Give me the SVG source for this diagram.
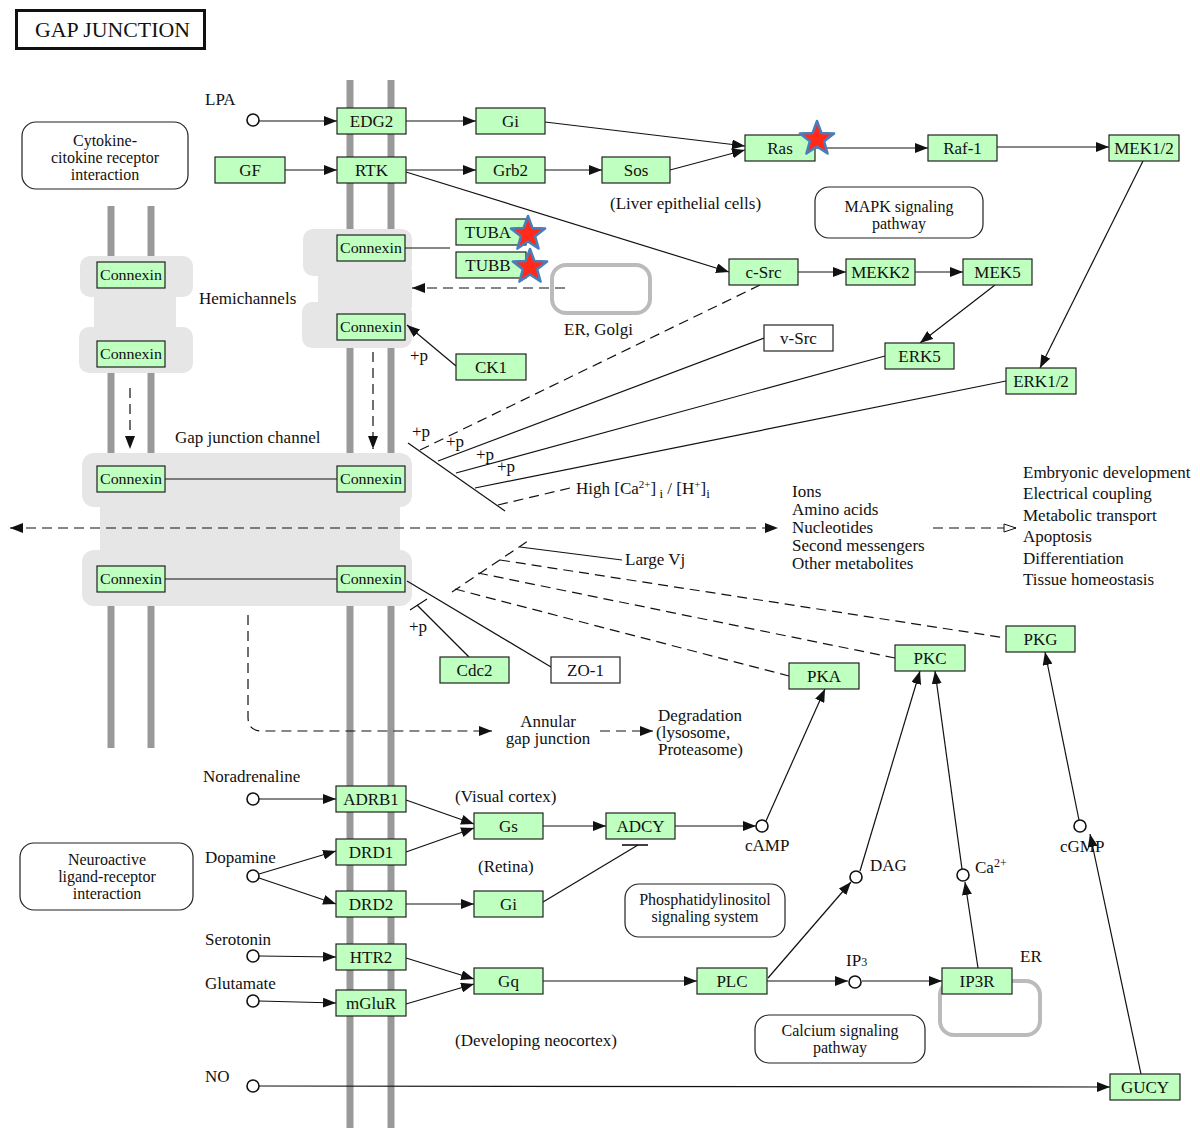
<svg xmlns="http://www.w3.org/2000/svg" width="1200" height="1133" viewBox="0 0 1200 1133">
<style>
text{font-family:"Liberation Serif","Times New Roman",serif;font-size:17px;fill:#111}
.n rect{fill:#bfffbf;stroke:#222;stroke-width:1.2}
.w rect{fill:#fff;stroke:#222;stroke-width:1.2}
.n text,.w text{text-anchor:middle}
.cx text{font-size:15.5px}
.mem{fill:#999}
.bg{fill:#e6e6e6}
.box{fill:#fff;stroke:#222;stroke-width:1.2}
.pw text{font-size:16px}
.er{fill:none;stroke:#bbb;stroke-width:4}
.c line,.c path,.c polyline{stroke:#111;stroke-width:1.2;fill:none}
.d{stroke-dasharray:10,6}
.a{marker-end:url(#ah)}
.star{fill:#ff2a1a;stroke:#4a7ebb;stroke-width:2.5;stroke-linejoin:round}
.cir{fill:#fff;stroke:#111;stroke-width:1.6}
.mid{text-anchor:middle}
</style>
<defs>
<marker id="ah" markerWidth="13" markerHeight="10" refX="13" refY="5" orient="auto" markerUnits="userSpaceOnUse"><path d="M0,0 L13,5 L0,10 z" fill="#111"/></marker>
<marker id="ahs" markerWidth="13" markerHeight="10" refX="13" refY="5" orient="auto-start-reverse" markerUnits="userSpaceOnUse"><path d="M0,0 L13,5 L0,10 z" fill="#111"/></marker>
<marker id="ao" markerWidth="14" markerHeight="10" refX="13" refY="5" orient="auto" markerUnits="userSpaceOnUse"><path d="M1,1 L13,5 L1,9 z" fill="#fff" stroke="#111" stroke-width="1"/></marker>
<polygon id="star" points="0,-18 4.41,-6.07 17.12,-5.56 7.13,2.32 10.58,14.56 0,7.5 -10.58,14.56 -7.13,2.32 -17.12,-5.56 -4.41,-6.07"/>
</defs>
<rect width="1200" height="1133" fill="#fff"/>
<!-- title -->
<rect x="16.5" y="10.5" width="188" height="38" fill="#fff" stroke="#111" stroke-width="3"/>
<text x="35" y="37" style="font-size:20px" textLength="155" lengthAdjust="spacingAndGlyphs">GAP JUNCTION</text>
<!-- membranes -->
<g id="membranes">
<rect class="mem" x="346.5" y="80" width="7" height="1048"/>
<rect class="mem" x="387.5" y="80" width="7" height="1048"/>
<rect class="mem" x="107.5" y="206" width="7" height="542"/>
<rect class="mem" x="147.5" y="206" width="7" height="542"/>
</g>
<!-- grey backgrounds -->
<g id="backgrounds">
<rect class="bg" x="80" y="256" width="113" height="41" rx="10"/>
<rect class="bg" x="94" y="290" width="82" height="42"/>
<rect class="bg" x="79" y="327" width="114" height="46" rx="10"/>
<rect class="bg" x="303" y="229" width="109" height="47" rx="10"/>
<rect class="bg" x="318" y="270" width="94" height="38"/>
<rect class="bg" x="302" y="302" width="110" height="46" rx="10"/>
<rect class="bg" x="82" y="453" width="330" height="54" rx="12"/>
<rect class="bg" x="100" y="500" width="300" height="55"/>
<rect class="bg" x="82" y="550" width="330" height="56" rx="12"/>
<rect class="er" x="552" y="265" width="98" height="48" rx="14"/>
<rect class="er" x="940" y="981" width="100" height="54" rx="14"/>
</g>
<!-- pathway boxes -->
<g id="pathways" class="pw">
<g id="cytokine"><rect class="box" x="22" y="122" width="166" height="67" rx="14"/><text class="mid" x="105" y="146">Cytokine-</text><text class="mid" x="105" y="163">citokine receptor</text><text class="mid" x="105" y="180">interaction</text></g>
<g id="mapk"><rect class="box" x="815" y="187" width="168" height="51" rx="14"/><text class="mid" x="899" y="212">MAPK signaling</text><text class="mid" x="899" y="229">pathway</text></g>
<g id="neuroactive"><rect class="box" x="20" y="843" width="173" height="67" rx="14"/><text class="mid" x="107" y="865">Neuroactive</text><text class="mid" x="107" y="882">ligand-receptor</text><text class="mid" x="107" y="899">interaction</text></g>
<g id="phosphatidylinositol"><rect class="box" x="625" y="884" width="160" height="53" rx="14"/><text class="mid" x="705" y="905">Phosphatidylinositol</text><text class="mid" x="705" y="922">signaling system</text></g>
<g id="calcium"><rect class="box" x="755" y="1015" width="170" height="48" rx="14"/><text class="mid" x="840" y="1036">Calcium signaling</text><text class="mid" x="840" y="1053">pathway</text></g>
</g>
<!-- connectors -->
<g id="connectors" class="c">
<line x1="259" y1="121" x2="337" y2="121" class="a"/>
<line x1="285" y1="170" x2="337" y2="170" class="a"/>
<line x1="406" y1="121" x2="476" y2="121" class="a"/>
<line x1="406" y1="170" x2="476" y2="170" class="a"/>
<line x1="545" y1="170" x2="602" y2="170" class="a"/>
<line x1="545" y1="122" x2="745" y2="146" class="a"/>
<line x1="670" y1="170" x2="745" y2="150" class="a"/>
<line x1="815" y1="148" x2="928" y2="148" class="a"/>
<line x1="997" y1="147" x2="1109" y2="147" class="a"/>
<line x1="1143" y1="161" x2="1040" y2="368" class="a"/>
<line x1="406" y1="172" x2="729" y2="272" class="a"/>
<line x1="798" y1="272" x2="846" y2="272" class="a"/>
<line x1="915" y1="272" x2="963" y2="272" class="a"/>
<line x1="995" y1="285" x2="920" y2="343" class="a"/>
<line x1="456" y1="366" x2="407" y2="325" class="a"/>
<line x1="405" y1="248" x2="450" y2="248"/>
<line x1="565" y1="288" x2="412" y2="288" class="a d"/>
<line x1="130" y1="388" x2="130" y2="449" class="a d"/>
<line x1="373" y1="352" x2="373" y2="449" class="a d"/>
<line x1="165" y1="479" x2="337" y2="479"/>
<line x1="165" y1="579" x2="337" y2="579"/>
<line x1="10" y1="528" x2="778" y2="528" class="d" marker-start="url(#ahs)" marker-end="url(#ahs)"/>
<line x1="933" y1="528" x2="1016" y2="528" class="d" marker-end="url(#ao)"/>
<!-- upper fan -->
<line x1="408" y1="443" x2="505" y2="511"/>
<line x1="760" y1="285" x2="420" y2="450" class="d"/>
<line x1="764" y1="338" x2="438" y2="461"/>
<line x1="885" y1="356" x2="456" y2="473"/>
<line x1="1006" y1="381" x2="475" y2="488"/>
<line x1="570" y1="488" x2="498" y2="505" class="d"/>
<!-- lower fan -->
<line x1="452" y1="592" x2="528" y2="541" class="d"/>
<line x1="520" y1="547" x2="622" y2="560"/>
<line x1="500" y1="560" x2="1006" y2="638" class="d"/>
<line x1="478" y1="573" x2="895" y2="658" class="d"/>
<line x1="455" y1="589" x2="789" y2="676" class="d"/>
<line x1="407" y1="581" x2="551" y2="667"/>
<line x1="469" y1="657" x2="417" y2="605"/>
<line x1="410" y1="610" x2="427" y2="599"/>
<!-- annular -->
<path d="M248,615 V717 Q248,731 262,731 H492" class="a d"/>
<line x1="600" y1="731" x2="653" y2="731" class="a d"/>
<!-- lower signaling -->
<line x1="259" y1="799" x2="336" y2="799" class="a"/>
<line x1="259" y1="874" x2="336" y2="851" class="a"/>
<line x1="259" y1="878" x2="336" y2="904" class="a"/>
<line x1="406" y1="800" x2="474" y2="824" class="a"/>
<line x1="406" y1="852" x2="474" y2="828" class="a"/>
<line x1="406" y1="904" x2="474" y2="904" class="a"/>
<line x1="543" y1="826" x2="606" y2="826" class="a"/>
<line x1="675" y1="826" x2="756" y2="826" class="a"/>
<line x1="766" y1="821" x2="825" y2="689" class="a"/>
<line x1="543" y1="902" x2="638" y2="845"/>
<line x1="622" y1="845" x2="648" y2="845" style="stroke-width:1.6"/>
<line x1="259" y1="956" x2="336" y2="957" class="a"/>
<line x1="259" y1="1001" x2="336" y2="1003" class="a"/>
<line x1="406" y1="958" x2="474" y2="979" class="a"/>
<line x1="406" y1="1004" x2="474" y2="984" class="a"/>
<line x1="543" y1="981" x2="697" y2="981" class="a"/>
<line x1="767" y1="981" x2="848" y2="981" class="a"/>
<line x1="862" y1="981" x2="942" y2="981" class="a"/>
<line x1="768" y1="978" x2="851" y2="882" class="a"/>
<line x1="860" y1="871" x2="920" y2="671" class="a"/>
<line x1="978" y1="968" x2="965" y2="882" class="a"/>
<line x1="962" y1="869" x2="935" y2="671" class="a"/>
<line x1="1079" y1="820" x2="1045" y2="652" class="a"/>
<line x1="1141" y1="1074" x2="1090" y2="834" class="a"/>
<line x1="259" y1="1086" x2="1110" y2="1087" class="a"/>
</g>
<!-- compounds -->
<g id="compounds">
<circle class="cir" cx="253" cy="120" r="6"/>
<circle class="cir" cx="253" cy="799" r="6"/>
<circle class="cir" cx="253" cy="876" r="6"/>
<circle class="cir" cx="253" cy="956" r="6"/>
<circle class="cir" cx="253" cy="1001" r="6"/>
<circle class="cir" cx="253" cy="1086" r="6"/>
<circle class="cir" cx="762" cy="826" r="6"/>
<circle class="cir" cx="855" cy="982" r="6"/>
<circle class="cir" cx="856" cy="877" r="6"/>
<circle class="cir" cx="963" cy="875" r="6"/>
<circle class="cir" cx="1080" cy="826" r="6"/>
</g>
<!-- nodes -->
<g id="EDG2" class="n"><rect x="337" y="108" width="69" height="26"/><text x="371.5" y="127">EDG2</text></g>
<g id="RTK" class="n"><rect x="337" y="157" width="69" height="26"/><text x="371.5" y="176">RTK</text></g>
<g id="GF" class="n"><rect x="215" y="157" width="70" height="26"/><text x="250" y="176">GF</text></g>
<g id="Gi1" class="n"><rect x="476" y="108" width="69" height="26"/><text x="510.5" y="127">Gi</text></g>
<g id="Grb2" class="n"><rect x="476" y="157" width="69" height="26"/><text x="510.5" y="176">Grb2</text></g>
<g id="Sos" class="n"><rect x="602" y="157" width="68" height="26"/><text x="636" y="176">Sos</text></g>
<g id="Ras" class="n"><rect x="745" y="135" width="70" height="26"/><text x="780" y="154">Ras</text></g>
<g id="Raf1" class="n"><rect x="928" y="135" width="69" height="26"/><text x="962.5" y="154">Raf-1</text></g>
<g id="MEK12" class="n"><rect x="1109" y="135" width="70" height="26"/><text x="1144" y="154">MEK1/2</text></g>
<g id="TUBA" class="n"><rect x="456" y="219" width="70" height="26"/><text x="488" y="238">TUBA</text></g>
<g id="TUBB" class="n"><rect x="456" y="252" width="70" height="26"/><text x="488" y="271">TUBB</text></g>
<g id="cSrc" class="n"><rect x="729" y="259" width="69" height="26"/><text x="763.5" y="278">c-Src</text></g>
<g id="MEKK2" class="n"><rect x="846" y="259" width="69" height="26"/><text x="880.5" y="278">MEKK2</text></g>
<g id="MEK5" class="n"><rect x="963" y="259" width="69" height="26"/><text x="997.5" y="278">MEK5</text></g>
<g id="vSrc" class="w"><rect x="764" y="325" width="69" height="26"/><text x="798.5" y="344">v-Src</text></g>
<g id="ERK5" class="n"><rect x="885" y="343" width="69" height="26"/><text x="919.5" y="362">ERK5</text></g>
<g id="ERK12" class="n"><rect x="1006" y="368" width="70" height="26"/><text x="1041" y="387">ERK1/2</text></g>
<g id="CK1" class="n"><rect x="456" y="354" width="70" height="26"/><text x="491" y="373">CK1</text></g>
<g id="Cdc2" class="n"><rect x="440" y="657" width="69" height="26"/><text x="474.5" y="676">Cdc2</text></g>
<g id="ZO1" class="w"><rect x="551" y="657" width="69" height="26"/><text x="585.5" y="676">ZO-1</text></g>
<g id="PKA" class="n"><rect x="789" y="663" width="70" height="26"/><text x="824" y="682">PKA</text></g>
<g id="PKC" class="n"><rect x="895" y="645" width="70" height="26"/><text x="930" y="664">PKC</text></g>
<g id="PKG" class="n"><rect x="1006" y="626" width="69" height="26"/><text x="1040.5" y="645">PKG</text></g>
<g id="ADRB1" class="n"><rect x="336" y="786" width="70" height="26"/><text x="371" y="805">ADRB1</text></g>
<g id="DRD1" class="n"><rect x="336" y="839" width="70" height="26"/><text x="371" y="858">DRD1</text></g>
<g id="DRD2" class="n"><rect x="336" y="891" width="70" height="26"/><text x="371" y="910">DRD2</text></g>
<g id="Gi2" class="n"><rect x="474" y="891" width="69" height="26"/><text x="508.5" y="910">Gi</text></g>
<g id="HTR2" class="n"><rect x="336" y="944" width="70" height="26"/><text x="371" y="963">HTR2</text></g>
<g id="mGluR" class="n"><rect x="336" y="990" width="70" height="26"/><text x="371" y="1009">mGluR</text></g>
<g id="Gs" class="n"><rect x="474" y="813" width="69" height="26"/><text x="508.5" y="832">Gs</text></g>
<g id="ADCY" class="n"><rect x="606" y="813" width="69" height="26"/><text x="640.5" y="832">ADCY</text></g>
<g id="Gq" class="n"><rect x="474" y="968" width="69" height="26"/><text x="508.5" y="987">Gq</text></g>
<g id="PLC" class="n"><rect x="697" y="968" width="70" height="26"/><text x="732" y="987">PLC</text></g>
<g id="IP3R" class="n"><rect x="942" y="968" width="70" height="26"/><text x="977" y="987">IP3R</text></g>
<g id="GUCY" class="n"><rect x="1110" y="1074" width="70" height="26"/><text x="1145" y="1093">GUCY</text></g>
<g id="CxL1" class="n cx"><rect x="97" y="262" width="68" height="26"/><text x="131" y="280" textLength="62" lengthAdjust="spacingAndGlyphs">Connexin</text></g>
<g id="CxL2" class="n cx"><rect x="97" y="341" width="68" height="26"/><text x="131" y="359" textLength="62" lengthAdjust="spacingAndGlyphs">Connexin</text></g>
<g id="CxR1" class="n cx"><rect x="337" y="235" width="68" height="26"/><text x="371" y="253" textLength="62" lengthAdjust="spacingAndGlyphs">Connexin</text></g>
<g id="CxR2" class="n cx"><rect x="337" y="314" width="68" height="26"/><text x="371" y="332" textLength="62" lengthAdjust="spacingAndGlyphs">Connexin</text></g>
<g id="CxG1L" class="n cx"><rect x="97" y="466" width="68" height="26"/><text x="131" y="484" textLength="62" lengthAdjust="spacingAndGlyphs">Connexin</text></g>
<g id="CxG1R" class="n cx"><rect x="337" y="466" width="68" height="26"/><text x="371" y="484" textLength="62" lengthAdjust="spacingAndGlyphs">Connexin</text></g>
<g id="CxG2L" class="n cx"><rect x="97" y="566" width="68" height="26"/><text x="131" y="584" textLength="62" lengthAdjust="spacingAndGlyphs">Connexin</text></g>
<g id="CxG2R" class="n cx"><rect x="337" y="566" width="68" height="26"/><text x="371" y="584" textLength="62" lengthAdjust="spacingAndGlyphs">Connexin</text></g>
<!-- stars -->
<g id="stars">
<use href="#star" class="star" x="817" y="139"/>
<use href="#star" class="star" x="528" y="234"/>
<use href="#star" class="star" x="530" y="267"/>
</g>
<!-- labels -->
<g id="labels">
<text x="205" y="105">LPA</text>
<text x="203" y="782">Noradrenaline</text>
<text x="205" y="863">Dopamine</text>
<text x="205" y="945">Serotonin</text>
<text x="205" y="989">Glutamate</text>
<text x="205" y="1082">NO</text>
<text x="199" y="304">Hemichannels</text>
<text x="175" y="443">Gap junction channel</text>
<text x="610" y="209">(Liver epithelial cells)</text>
<text x="564" y="335">ER, Golgi</text>
<text x="410" y="361">+p</text>
<text x="412" y="437">+p</text>
<text x="446" y="447">+p</text>
<text x="476" y="460">+p</text>
<text x="497" y="472">+p</text>
<text x="409" y="632">+p</text>
<text x="576" y="494">High [Ca<tspan dy="-6" font-size="11">2+</tspan><tspan dy="6">]</tspan><tspan dy="4" font-size="13"> i</tspan><tspan dy="-4"> / [H</tspan><tspan dy="-6" font-size="11">+</tspan><tspan dy="6">]</tspan><tspan dy="4" font-size="13">i</tspan></text>
<text x="625" y="565">Large Vj</text>
<text x="792" y="497">Ions</text>
<text x="792" y="515">Amino acids</text>
<text x="792" y="533">Nucleotides</text>
<text x="792" y="551">Second messengers</text>
<text x="792" y="569">Other metabolites</text>
<text x="1023" y="478">Embryonic development</text>
<text x="1023" y="499">Electrical coupling</text>
<text x="1023" y="521">Metabolic transport</text>
<text x="1023" y="542">Apoptosis</text>
<text x="1023" y="564">Differentiation</text>
<text x="1023" y="585">Tissue homeostasis</text>
<text class="mid" x="548" y="727">Annular</text>
<text class="mid" x="548" y="744">gap junction</text>
<text x="658" y="721">Degradation</text>
<text x="656" y="738">(lysosome,</text>
<text x="658" y="755">Proteasome)</text>
<text x="455" y="802">(Visual cortex)</text>
<text x="478" y="872">(Retina)</text>
<text x="455" y="1046">(Developing neocortex)</text>
<text x="745" y="851">cAMP</text>
<text x="870" y="871">DAG</text>
<text x="975" y="873">Ca<tspan dy="-6" font-size="12">2+</tspan></text>
<text x="1060" y="852">cGMP</text>
<text x="846" y="966">IP<tspan font-size="12">3</tspan></text>
<text x="1020" y="962">ER</text>
</g>
</svg>
